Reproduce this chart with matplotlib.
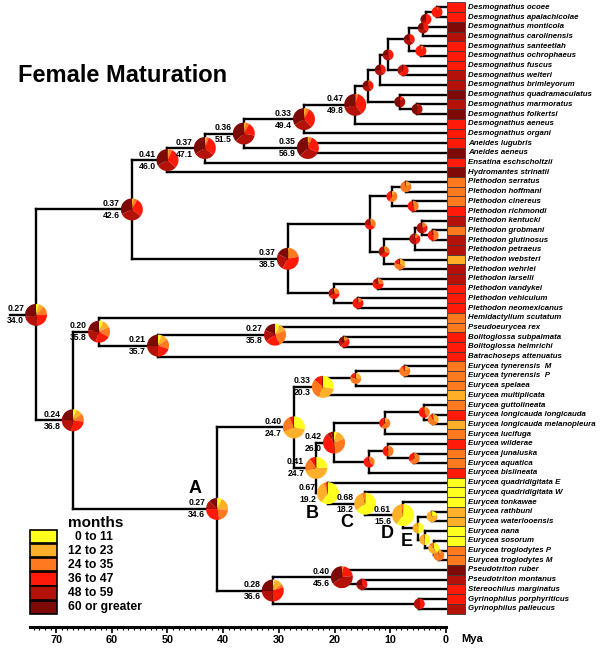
import matplotlib
matplotlib.use("Agg")
import matplotlib.pyplot as plt
import matplotlib.transforms as mtransforms
from matplotlib.patches import Wedge, Rectangle

plt.rcParams['font.family'] = ['Liberation Sans', 'DejaVu Sans']

# Age classes (months) and their colours
classes = ['0 to 11', '12 to 23', '24 to 35', '36 to 47', '48 to 59', '60 or greater']
class_colors = ['#FFFF1E', '#FFAF28', '#FF7A1E', '#FF1A0A', '#B41208', '#7E0A08']

# Tips, top to bottom, with their observed class
species = [
    'Desmognathus ocoee', 'Desmognathus apalachicolae', 'Desmognathus monticola',
    'Desmognathus carolinensis', 'Desmognathus santeetlah', 'Desmognathus ochrophaeus',
    'Desmognathus fuscus', 'Desmognathus welteri', 'Desmognathus brimleyorum',
    'Desmognathus quadramaculatus', 'Desmognathus marmoratus', 'Desmognathus folkertsi',
    'Desmognathus aeneus', 'Desmognathus organi', 'Aneides lugubris', 'Aneides aeneus',
    'Ensatina eschscholtzii', 'Hydromantes strinatii', 'Plethodon serratus',
    'Plethodon hoffmani', 'Plethodon cinereus', 'Plethodon richmondi', 'Plethodon kentucki',
    'Plethodon grobmani', 'Plethodon glutinosus', 'Plethodon petraeus', 'Plethodon websteri',
    'Plethodon wehrlei', 'Plethodon larselli', 'Plethodon vandykei', 'Plethodon vehiculum',
    'Plethodon neomexicanus', 'Hemidactylium scutatum', 'Pseudoeurycea rex',
    'Bolitoglossa subpalmata', 'Bolitoglossa helmrichi', 'Batrachoseps attenuatus',
    'Eurycea tynerensis  M', 'Eurycea tynerensis  P', 'Eurycea spelaea',
    'Eurycea multiplicata', 'Eurycea guttolineata', 'Eurycea longicauda longicauda',
    'Eurycea longicauda melanopleura', 'Eurycea lucifuga', 'Eurycea wilderae',
    'Eurycea junaluska', 'Eurycea aquatica', 'Eurycea bislineata',
    'Eurycea quadridigitata E', 'Eurycea quadridigitata W', 'Eurycea tonkawae',
    'Eurycea rathbuni', 'Eurycea waterlooensis', 'Eurycea nana', 'Eurycea sosorum',
    'Eurycea troglodytes P', 'Eurycea troglodytes M', 'Pseudotriton ruber',
    'Pseudotriton montanus', 'Stereochilus marginatus', 'Gyrinophilus porphyriticus',
    'Gyrinophilus palleucus',
]
species_class = [3, 3, 5, 4, 3, 3, 3, 4, 4, 5, 4, 5, 3, 3, 3, 5, 3, 5,
                 2, 2, 2, 3, 4, 2, 4, 4, 1, 4, 4, 3, 3, 3, 2, 2, 3, 3, 3,
                 2, 2, 2, 1, 2, 3, 1, 2, 3, 2, 2, 3, 0, 0, 0, 1, 1, 0, 0, 2, 2,
                 5, 4, 3, 3, 4]

# Internal nodes (children listed before parents): tips are row numbers
node_names = ['d12', 'd123', 'd1234', 'd56', 'd1_6', 'd78', 'dQ', 'dU', 'd1112', 'd10_12',
              'd368', 'd047', 'd033', 'aneides', 'd036', 'd037', 'd041',
              'p12', 'p34', 'p1_4', 'p67', 'p5_7', 'p5_8', 'p910', 'p5_10', 'peast',
              'p1112', 'p1314', 'pwest', 'pleth', 'n0426',
              'bolito', 'n027', 'n021', 'n020',
              'e_tyn', 'e_tyn_sp', 'e033', 'e_ll', 'e_g', 'e_luc', 'e_ja', 'e_wja', 'e_bis',
              'e042', 'e_rw', 'e_trog', 'e_st', 'e_nst', 'eE', 'eD', 'eC', 'eB', 'e041', 'e040',
              's_ms', 's040', 's_gyr', 's028', 'nA', 'n024', 'root']
node_kids = [(0, 1), ('d12', 2), ('d123', 3), (4, 5), ('d1234', 'd56'), (6, 7),
             ('d1_6', 'd78'), ('dQ', 8), (10, 11), (9, 'd1112'), ('dU', 'd10_12'),
             ('d368', 12), ('d047', 13), (14, 15), ('d033', 'aneides'), ('d036', 16),
             ('d037', 17),
             (18, 19), (20, 21), ('p12', 'p34'), (23, 24), (22, 'p67'), ('p5_7', 25),
             (26, 27), ('p5_8', 'p910'), ('p1_4', 'p5_10'), (28, 29), (30, 31),
             ('p1112', 'p1314'), ('peast', 'pwest'), ('d041', 'pleth'),
             (34, 35), (33, 'bolito'), ('n027', 36), (32, 'n021'),
             (37, 38), ('e_tyn', 39), ('e_tyn_sp', 40), (42, 43), (41, 'e_ll'),
             ('e_g', 44), (46, 47), (45, 'e_ja'), ('e_wja', 48), ('e_luc', 'e_bis'),
             (52, 53), (56, 57), (55, 'e_trog'), (54, 'e_st'), ('e_rw', 'e_nst'),
             (51, 'eE'), (50, 'eD'), (49, 'eC'), ('e042', 'eB'), ('e033', 'e041'),
             (59, 60), (58, 's_ms'), (61, 62), ('s040', 's_gyr'), ('e040', 's028'),
             ('n020', 'nA'), ('n0426', 'n024')]
node_ages = [1.6, 3.6, 4.1, 4.5, 6.6, 7.7, 10.4, 11.8, 5.2, 8.3,
             14.0, 16.3, 25.5, 24.8, 36.3, 43.3, 50.0,
             7.2, 5.9, 9.7, 2.3, 4.3, 5.6, 8.3, 11.1, 13.6,
             12.2, 15.8, 20.1, 28.4, 56.4,
             18.3, 30.7, 51.7, 62.3,
             7.4, 16.2, 22.1, 2.3, 3.9, 11.0, 5.7, 10.4, 13.8,
             20.1, 2.5, 1.3, 2.2, 3.8, 5.0, 7.7, 14.5, 21.2, 23.3, 27.3,
             15.1, 18.7, 4.8, 31.1, 41.1, 67.0, 73.6]
root_stem_age = 78.3

# Reconstructed class proportions at each node
node_pies = [
    [0, 0, 0.05, 0.95, 0, 0], [0, 0, 0, 0.5, 0.2, 0.3], [0, 0, 0, 0.35, 0.35, 0.3],
    [0, 0, 0.08, 0.92, 0, 0], [0, 0, 0.02, 0.35, 0.4, 0.23], [0, 0, 0.02, 0.6, 0.33, 0.05],
    [0, 0, 0.02, 0.4, 0.35, 0.23], [0, 0, 0.02, 0.35, 0.38, 0.25], [0, 0, 0, 0.05, 0.45, 0.5],
    [0, 0, 0, 0.1, 0.4, 0.5], [0, 0, 0.03, 0.35, 0.35, 0.27], [0, 0.01, 0.03, 0.36, 0.3, 0.3],
    [0, 0.03, 0.05, 0.3, 0.28, 0.34], [0, 0.02, 0.04, 0.26, 0.3, 0.38],
    [0, 0.03, 0.05, 0.2, 0.35, 0.37], [0, 0.03, 0.03, 0.3, 0.3, 0.34],
    [0, 0.02, 0.05, 0.3, 0.3, 0.33],
    [0, 0.15, 0.8, 0.05, 0, 0], [0, 0.05, 0.4, 0.5, 0.05, 0], [0, 0.08, 0.5, 0.35, 0.05, 0.02],
    [0, 0.05, 0.45, 0.4, 0.1, 0], [0, 0.02, 0.15, 0.25, 0.55, 0.03],
    [0, 0.02, 0.12, 0.3, 0.5, 0.06], [0, 0.3, 0.5, 0.15, 0.05, 0],
    [0, 0.05, 0.25, 0.3, 0.35, 0.05], [0, 0.05, 0.3, 0.35, 0.25, 0.05],
    [0, 0.05, 0.2, 0.55, 0.2, 0], [0, 0.03, 0.12, 0.8, 0.05, 0],
    [0, 0.05, 0.2, 0.4, 0.28, 0.07], [0, 0.02, 0.2, 0.36, 0.24, 0.18],
    [0, 0.03, 0.05, 0.27, 0.33, 0.32],
    [0, 0.05, 0.1, 0.45, 0.2, 0.2], [0.08, 0.1, 0.25, 0.22, 0.17, 0.18],
    [0.05, 0.1, 0.15, 0.2, 0.25, 0.25], [0.06, 0.12, 0.15, 0.22, 0.22, 0.23],
    [0, 0.15, 0.75, 0.1, 0, 0], [0, 0.25, 0.55, 0.15, 0.05, 0],
    [0.28, 0.28, 0.3, 0.12, 0.02, 0], [0.05, 0.3, 0.55, 0.1, 0, 0],
    [0, 0.05, 0.35, 0.6, 0, 0], [0, 0.1, 0.5, 0.35, 0.05, 0], [0, 0.05, 0.6, 0.35, 0, 0],
    [0, 0.05, 0.45, 0.45, 0.05, 0], [0, 0.05, 0.3, 0.6, 0.05, 0],
    [0.04, 0.15, 0.3, 0.4, 0.06, 0.05], [0.2, 0.75, 0.05, 0, 0, 0], [0, 0.1, 0.9, 0, 0, 0],
    [0.4, 0.45, 0.15, 0, 0, 0], [0.5, 0.45, 0.05, 0, 0, 0], [0.5, 0.48, 0.02, 0, 0, 0],
    [0.6, 0.37, 0.03, 0, 0, 0], [0.65, 0.3, 0.05, 0, 0, 0], [0.6, 0.33, 0.04, 0.03, 0, 0],
    [0.25, 0.45, 0.2, 0.08, 0.02, 0], [0.28, 0.4, 0.25, 0.05, 0.02, 0],
    [0, 0, 0, 0.35, 0.4, 0.25], [0, 0, 0.03, 0.2, 0.42, 0.35], [0, 0, 0, 0.5, 0.5, 0],
    [0.03, 0.12, 0.05, 0.3, 0.25, 0.25], [0.07, 0.2, 0.2, 0.28, 0.13, 0.12],
    [0.05, 0.1, 0.12, 0.25, 0.25, 0.23], [0.04, 0.08, 0.13, 0.22, 0.25, 0.28],
]

# Node statistics printed beside the large pies
node_stats = {
    'root': ('0.27', '34.0'), 'n0426': ('0.37', '42.6'), 'd041': ('0.41', '46.0'),
    'd037': ('0.37', '47.1'), 'd036': ('0.36', '51.5'), 'd033': ('0.33', '49.4'),
    'aneides': ('0.35', '56.9'), 'd047': ('0.47', '49.8'), 'pleth': ('0.37', '38.5'),
    'n020': ('0.20', '35.8'), 'n021': ('0.21', '35.7'), 'n027': ('0.27', '35.8'),
    'n024': ('0.24', '36.8'), 'nA': ('0.27', '34.6'), 'e040': ('0.40', '24.7'),
    'e033': ('0.33', '20.3'), 'e041': ('0.41', '24.7'), 'e042': ('0.42', '26.0'),
    'eB': ('0.67', '19.2'), 'eC': ('0.68', '18.2'), 'eD': ('0.61', '15.6'),
    's028': ('0.28', '36.6'), 's040': ('0.40', '45.6'),
}
clade_letters = {'nA': ('A', -22, 20), 'eB': ('B', -16, -20), 'eC': ('C', -18, -19),
                 'eD': ('D', -16, -18), 'eE': ('E', -11, -13)}

axis_ticks = [0, 10, 20, 30, 40, 50, 60, 70]
axis_start = 74.7

# ---------------------------------------------------------------- figure
fig = plt.figure(figsize=(6, 6.52), dpi=100)
ax = fig.add_axes([0, 0, 1, 1])
ax.set_xlim(80.07, -27.65)
ax.set_ylim(66.46, -0.753)
ax.axis('off')

ypos, age = {}, {}
def get_y(k):
    return k if isinstance(k, int) else ypos[k]

def get_age(k):
    return 0.0 if isinstance(k, int) else age[k]

for name, kids, a in zip(node_names, node_kids, node_ages):
    ypos[name] = (get_y(kids[0]) + get_y(kids[1])) / 2
    age[name] = a

# branches
lw = 1.7
for name, kids in zip(node_names, node_kids):
    a = age[name]
    ax.plot([a, a], [get_y(kids[0]), get_y(kids[1])], color='black', lw=lw,
            solid_capstyle='projecting', zorder=2)
    for k in kids:
        ax.plot([a, get_age(k)], [get_y(k), get_y(k)], color='black', lw=lw,
                solid_capstyle='projecting', zorder=2)
ax.plot([root_stem_age, age['root']], [ypos['root']] * 2, color='black', lw=lw, zorder=2)

# pies
def draw_pie(x, y, fracs, r_px):
    trans = fig.dpi_scale_trans + mtransforms.ScaledTranslation(x, y, ax.transData)
    start = 90.0
    total = sum(fracs)
    for f, c in zip(fracs, class_colors):
        if f <= 0:
            continue
        ang = 360.0 * f / total
        ax.add_patch(Wedge((0, 0), r_px / fig.dpi, start - ang, start, facecolor=c,
                           edgecolor='none', transform=trans, zorder=4))
        start -= ang

for name, fr in zip(node_names, node_pies):
    big = name in node_stats
    draw_pie(age[name], ypos[name], fr, 11 if big else 5.5)
    if big:
        top, bot = node_stats[name]
        ax.annotate(top, (age[name], ypos[name]), xytext=(-12, 6), textcoords='offset pixels',
                    ha='right', va='center', fontsize=6.2, fontweight='bold', zorder=6)
        ax.annotate(bot, (age[name], ypos[name]), xytext=(-12, -6), textcoords='offset pixels',
                    ha='right', va='center', fontsize=6.2, fontweight='bold', zorder=6)
    if name in clade_letters:
        lt, dx, dy = clade_letters[name]
        ax.annotate(lt, (age[name], ypos[name]), xytext=(dx, dy), textcoords='offset pixels',
                    ha='center', va='center', fontsize=13, fontweight='bold', zorder=6)

# tip boxes and names
rows = list(range(len(species)))
ax.barh(rows, width=-3.23, left=-0.18, height=1.0,
        color=[class_colors[c] for c in species_class], edgecolor='#3a3a3a', linewidth=0.6,
        zorder=3)
for r, s in zip(rows, species):
    ax.text(-3.95, r, s, ha='left', va='center', fontsize=5.7, fontweight='bold',
            fontstyle='italic', zorder=6)

# time axis
sax = fig.add_axes([0, 1 - 627 / 652, 1, 0.02])
sax.set_xlim(ax.get_xlim())
sax.patch.set_visible(False)
for sp in ['top', 'left', 'right']:
    sax.spines[sp].set_visible(False)
sax.spines['bottom'].set_linewidth(2.2)
sax.spines['bottom'].set_bounds(0, axis_start)
sax.set_yticks([])
sax.set_xticks(axis_ticks)
sax.set_xticks(list(range(0, 75)), minor=True)
sax.tick_params(axis='x', which='major', length=4, width=1.2, pad=1.5, labelsize=7.8)
sax.tick_params(axis='x', which='minor', length=2, width=0.8)
for lab in sax.get_xticklabels():
    lab.set_fontweight('bold')
sax.annotate('Mya', (-2.7, 0), xycoords=('data', 'axes fraction'), xytext=(0, -12),
             textcoords='offset pixels', ha='left', va='center', fontsize=8, fontweight='bold')

# title and legend
oax = fig.add_axes([0, 0, 1, 1])
oax.set_xlim(0, 600)
oax.set_ylim(652, 0)
oax.axis('off')
oax.text(18, 75, 'Female Maturation', ha='left', va='center', fontsize=17, fontweight='bold')
oax.text(68, 523, 'months', ha='left', va='center', fontsize=11, fontweight='bold')
for i, (lab, c) in enumerate(zip(classes, class_colors)):
    y0 = 530 + i * 14.1
    oax.add_patch(Rectangle((30, y0), 27, 13.2, facecolor=c, edgecolor='black', lw=1.2))
    oax.text(75 if i == 0 else 68, y0 + 6.8, lab, ha='left', va='center', fontsize=8.7,
             fontweight='bold')

fig.savefig('out.png', dpi=100)
